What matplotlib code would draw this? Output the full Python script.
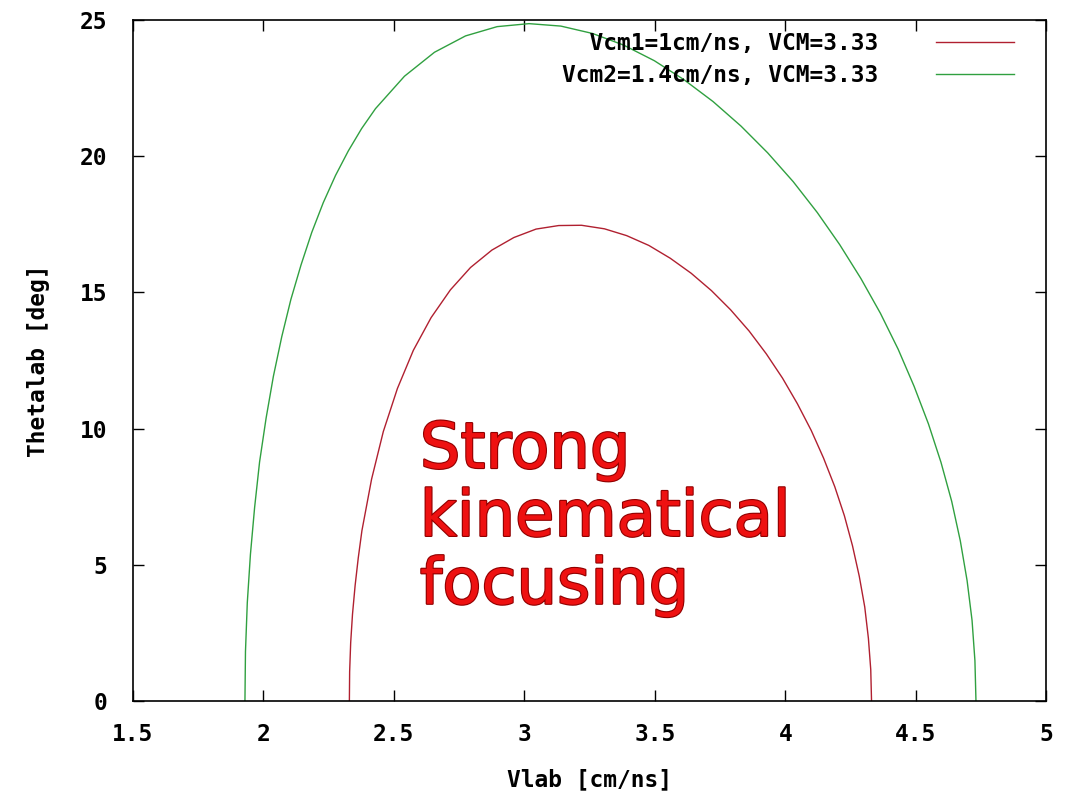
import matplotlib
matplotlib.use("Agg")
import matplotlib.pyplot as plt
import matplotlib.patheffects as pe

# Vlab [cm/ns] and Thetalab [deg]
vlab_1 = [4.330, 4.327, 4.318, 4.304, 4.283, 4.257, 4.226, 4.189, 4.146, 4.099,
          4.046, 3.989, 3.927, 3.861, 3.790, 3.717, 3.639, 3.559, 3.477, 3.392,
          3.307, 3.219, 3.132, 3.045, 2.960, 2.876, 2.794, 2.717, 2.643, 2.575,
          2.514, 2.460, 2.415, 2.378, 2.364, 2.352, 2.342, 2.335, 2.331, 2.330]
theta_1 = [0.0, 1.15, 2.30, 3.45, 4.58, 5.70, 6.80, 7.87, 8.92, 9.93,
           10.91, 11.85, 12.74, 13.58, 14.36, 15.06, 15.70, 16.25, 16.72, 17.08,
           17.33, 17.46, 17.45, 17.32, 17.01, 16.55, 15.91, 15.09, 14.07, 12.87,
           11.47, 9.89, 8.14, 6.25, 5.25, 4.24, 3.19, 2.14, 1.07, 0.0]

vlab_2 = [4.730, 4.726, 4.715, 4.696, 4.670, 4.637, 4.596, 4.548, 4.493, 4.432,
          4.364, 4.289, 4.208, 4.122, 4.030, 3.932, 3.830, 3.723, 3.612, 3.498,
          3.381, 3.261, 3.140, 3.018, 2.896, 2.775, 2.656, 2.541, 2.430, 2.377,
          2.326, 2.277, 2.230, 2.186, 2.145, 2.106, 2.071, 2.039, 2.011, 1.986,
          1.967, 1.951, 1.939, 1.932, 1.930]
theta_2 = [0.0, 1.48, 2.96, 4.42, 5.88, 7.33, 8.76, 10.17, 11.55, 12.91,
           14.23, 15.51, 16.75, 17.93, 19.06, 20.12, 21.10, 22.00, 22.80, 23.50,
           24.07, 24.50, 24.77, 24.86, 24.75, 24.41, 23.81, 22.93, 21.74, 21.01,
           20.19, 19.29, 18.29, 17.20, 16.01, 14.74, 13.37, 11.92, 10.38, 8.77,
           7.10, 5.38, 3.61, 1.81, 0.0]

labels = ["  Vcm1=1cm/ns, VCM=3.33", "Vcm2=1.4cm/ns, VCM=3.33"]
xticks = [1.5, 2, 2.5, 3, 3.5, 4, 4.5, 5]
xticklabels = ["1.5", "2", "2.5", "3", "3.5", "4", "4.5", "5"]
yticks = [0, 5, 10, 15, 20, 25]

mono = "DejaVu Sans Mono"
fs = 16.5

fig = plt.figure(figsize=(10.7, 7.93), dpi=100)
ax = fig.add_axes([0.124, 0.116, 0.854, 0.859])

ax.plot(vlab_1, theta_1, color="#b02030", lw=1.0, label=labels[0])
ax.plot(vlab_2, theta_2, color="#30a040", lw=1.0, label=labels[1])

ax.set_xlim(1.5, 5)
ax.set_ylim(0, 25)
ax.set_xticks(xticks)
ax.set_xticklabels(xticklabels)
ax.set_yticks(yticks)

# gnuplot style: inward ticks mirrored on all sides
ax.tick_params(direction="in", length=8, width=1, top=True, right=True)
ax.tick_params(axis="x", pad=16)
ax.tick_params(axis="y", pad=18)
for lab in ax.get_xticklabels() + ax.get_yticklabels():
    lab.set_fontfamily(mono)
    lab.set_fontweight("bold")
    lab.set_fontsize(fs)
for sp in ax.spines.values():
    sp.set_linewidth(1.2)

ax.set_xlabel("Vlab [cm/ns]", fontfamily=mono, fontweight="bold", fontsize=fs, labelpad=16)
ax.set_ylabel("Thetalab [deg]", fontfamily=mono, fontweight="bold", fontsize=fs, labelpad=22)

leg = ax.legend(loc="upper right", frameon=False, markerfirst=False,
                prop={"family": mono, "weight": "bold", "size": fs},
                handlelength=3.4, handletextpad=2.5, labelspacing=0.42,
                borderaxespad=0.2, bbox_to_anchor=(0.979, 1.003))

ax.text(2.6, 10.35, "Strong\nkinematical\nfocusing", color="#ee1111",
        fontsize=46, va="top", ha="left", linespacing=1.12,
        path_effects=[pe.Stroke(linewidth=1.6, foreground="#900000"), pe.Normal()])

fig.savefig("out.png", dpi=100)
